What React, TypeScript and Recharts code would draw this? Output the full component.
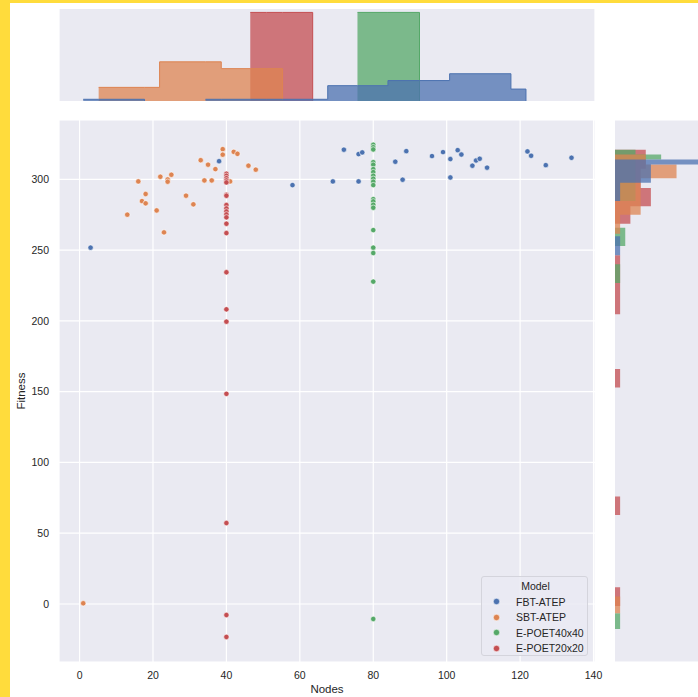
import React from "react";
import { ScatterChart, Scatter, ComposedChart, Area, XAxis, YAxis, CartesianGrid } from "recharts";

const HUES = ["FBT-ATEP", "SBT-ATEP", "E-POET40x40", "E-POET20x20"];
const COLORS = ["#4C72B0", "#DD8452", "#55A868", "#C44E52"];

const X_DOMAIN = [-5.6, 140.4];
const Y_DOMAIN = [-41, 342];
const X_TICKS = [0, 20, 40, 60, 80, 100, 120, 140];
const Y_TICKS = [0, 50, 100, 150, 200, 250, 300];

// scatter values
const fbtNodes = [3, 38, 58, 69, 72, 76, 77, 76, 86, 88, 89, 96, 99, 101, 101, 103, 104, 107, 108, 109, 111, 122, 123, 127, 134];
const fbtFitness = [251.8, 312.9, 296, 298.6, 321, 317.9, 319.1, 298.6, 312.5, 299.8, 320, 316.5, 319.3, 314.4, 301.4, 320.7, 317.6, 309.7, 313.4, 314.6, 308.3, 319.8, 316.7, 310.1, 315.3];
const sbtNodes = [1, 13, 16, 17, 18, 18, 21, 22, 23, 24, 24, 25, 29, 31, 33, 34, 35, 36, 37, 39, 39, 41, 42, 43, 46, 48];
const sbtFitness = [0.5, 275.1, 298.6, 284.7, 289.7, 283.1, 278.1, 301.9, 262.6, 300, 298.4, 303.3, 288.5, 282.4, 313.6, 299.3, 310.4, 299.3, 307.3, 321.4, 317.5, 298.6, 319.5, 318.1, 309.7, 306.9];
const poet40Nodes = 80;
const poet40Fitness = [324.5, 322.8, 321.2, 312.2, 310.4, 307.3, 305.2, 302.6, 300.5, 298.4, 296, 286.1, 284.5, 282.1, 280, 264.2, 251.8, 248, 227.8, -10.6];
const poet20Nodes = 40;
const poet20Fitness = [304, 302.6, 300.9, 299.3, 297.9, 289.2, 288.5, 281.9, 279.5, 277.4, 275.3, 273.2, 268.7, 262.1, 234.4, 208.2, 199.5, 148.5, 57.2, -7.8, -23.3];

// top marginal histogram (node bin edges, counts)
const topFbtEdges = [1.0, 17.7, 34.3, 50.9, 67.6, 84.0, 100.8, 117.5, 121.6];
const topFbtCounts = [1, 0, 1, 1, 9, 12, 16, 7];
const topSbtEdges = [5.2, 21.8, 38.6, 55.3];
const topSbtCounts = [8, 23, 19];
const topPoet40Edges = [75.7, 92.6];
const topPoet40Counts = [52];
const topPoet20Edges = [46.5, 63.5];
const topPoet20Counts = [52];

// right marginal histogram (fitness bin edges, counts)
const rightFbtEdges = [246.4, 259.8, 284.7, 297.7, 310.6, 314.1];
const rightFbtCounts = [1, 0, 1, 7, 18];
const rightSbtEdges = [-6.6, 5.2, 261.7, 275.1, 300.9, 310.6, 317.6];
const rightSbtCounts = [1, 0, 1, 5, 12, 6];
const rightPoet40Edges = [-17.6, -6.6, 226.8, 240.0, 252.9, 265.9, 284.7, 300.9, 314.1, 317.6, 321.0];
const rightPoet40Counts = [1, 0, 1, 0, 2, 0, 4, 4, 9, 4];
const rightPoet20Edges = [-1.4, 11.8, 62.8, 76.0, 153.0, 166.1, 204.7, 246.4, 268.7, 281.1, 294.0, 307.5, 321.0];
const rightPoet20Counts = [1, 0, 1, 0, 1, 0, 1, 0, 3, 7, 5, 6];

const FONT = "'Liberation Sans', Arial, sans-serif";
const TEXT = "#262626";
const BG = "#EAEAF2";

type Hist = { name: string; edges: number[]; counts: number[] };

// one row per bin edge (plus a break point inside every empty bin), one column per hue
function stepTable(key: string, hists: Hist[]) {
  const pts = hists.flatMap(h => [
    ...h.edges,
    ...h.counts.flatMap((c, j) => (c === 0 ? [(h.edges[j] + h.edges[j + 1]) / 2] : [])),
  ]);
  const all = Array.from(new Set(pts)).sort((a, b) => a - b);
  return all.map(e => {
    const row: Record<string, number | null> = { [key]: e };
    hists.forEach(({ name, edges, counts }) => {
      const last = edges[edges.length - 1];
      if (e < edges[0] || e > last) row[name] = null;
      else if (e === last) row[name] = 0;
      else {
        const j = edges.findIndex((v, k) => e >= v && e < edges[k + 1]);
        if (counts[j] === 0 && e !== edges[j]) row[name] = null;
        else row[name] = counts[j];
      }
    });
    return row;
  });
}

const topData = stepTable("x", [
  { name: HUES[0], edges: topFbtEdges, counts: topFbtCounts },
  { name: HUES[1], edges: topSbtEdges, counts: topSbtCounts },
  { name: HUES[2], edges: topPoet40Edges, counts: topPoet40Counts },
  { name: HUES[3], edges: topPoet20Edges, counts: topPoet20Counts },
]);

const rightData = stepTable("f", [
  { name: HUES[0], edges: rightFbtEdges, counts: rightFbtCounts },
  { name: HUES[1], edges: rightSbtEdges, counts: rightSbtCounts },
  { name: HUES[2], edges: rightPoet40Edges, counts: rightPoet40Counts },
  { name: HUES[3], edges: rightPoet20Edges, counts: rightPoet20Counts },
]);

const scatterSets = [
  fbtNodes.map((x, i) => ({ x, y: fbtFitness[i] })),
  sbtNodes.map((x, i) => ({ x, y: sbtFitness[i] })),
  poet40Fitness.map(y => ({ x: poet40Nodes, y })),
  poet20Fitness.map(y => ({ x: poet20Nodes, y })),
];

const drawOrder = [3, 2, 1, 0];

const dot = (color: string) => (p: any) => (
  <circle cx={p.cx} cy={p.cy} r={2.7} fill={color} stroke="#fff" strokeWidth={0.6} />
);

function Legend() {
  return (
    <div style={{
      position: "absolute", left: 481, top: 576, width: 107, height: 80, boxSizing: "border-box",
      background: "rgba(234,234,242,0.8)", border: "1px solid #d4d4dc", borderRadius: 3,
      fontFamily: FONT, fontSize: 10.5, color: TEXT,
    }}>
      <div style={{ position: "absolute", left: 0, width: 107, top: 3, textAlign: "center" }}>Model</div>
      {HUES.map((h, i) => (
        <div key={h} style={{ position: "absolute", left: 0, top: 18 + i * 15.5, height: 13, display: "flex", alignItems: "center" }}>
          <svg width={30} height={13}>
            <circle cx={14.5} cy={6.5} r={3.2} fill={COLORS[i]} stroke="#fff" strokeWidth={0.6} />
          </svg>
          <span style={{ marginLeft: 4 }}>{h}</span>
        </div>
      ))}
    </div>
  );
}

export default function App() {
  return (
    <div style={{ position: "absolute", left: 0, top: 0, width: 698, height: 697, overflow: "hidden", background: "#FFDC3C", fontFamily: FONT }}>
      <div style={{ position: "absolute", left: 10, top: 3, width: 688, height: 694, background: "#fff" }} />

      <div style={{ position: "absolute", left: 0, top: 0 }}>
        <ComposedChart width={610} height={110} data={topData} margin={{ top: 9, right: 15, bottom: 9, left: 59 }}>
          <CartesianGrid fill={BG} stroke="#fff" strokeWidth={1.2} horizontal={false} />
          <XAxis type="number" dataKey="x" domain={X_DOMAIN} ticks={X_TICKS} allowDataOverflow height={0} tick={false} axisLine={false} tickLine={false} />
          <YAxis type="number" domain={[0, 54]} hide />
          {drawOrder.map(i => (
            <Area key={HUES[i]} type="stepAfter" dataKey={HUES[i]} fill={COLORS[i]} fillOpacity={0.75}
              stroke={COLORS[i]} strokeWidth={1} isAnimationActive={false} dot={false} activeDot={false} />
          ))}
        </ComposedChart>
      </div>

      <div style={{ position: "absolute", left: 0, top: 110 }}>
        <ScatterChart width={610} height={587} margin={{ top: 10, right: 15, bottom: 0, left: 0 }}>
          <CartesianGrid fill={BG} stroke="#fff" strokeWidth={1.2} />
          <XAxis type="number" dataKey="x" domain={X_DOMAIN} ticks={X_TICKS} allowDataOverflow height={35}
            axisLine={false} tickLine={false} tickSize={0} tickMargin={10}
            tick={{ fill: TEXT, fontSize: 10.5, fontFamily: FONT }}
            label={{ value: "Nodes", position: "insideBottom", offset: 4, fill: TEXT, fontSize: 11.5, fontFamily: FONT }} />
          <YAxis type="number" dataKey="y" domain={Y_DOMAIN} ticks={Y_TICKS} allowDataOverflow width={59}
            axisLine={false} tickLine={false} tickSize={0} tickMargin={10}
            tick={{ fill: TEXT, fontSize: 10.5, fontFamily: FONT }}
            label={{ value: "Fitness", angle: -90, position: "insideLeft", offset: 21, style: { textAnchor: "middle" }, fill: TEXT, fontSize: 11.5, fontFamily: FONT }} />
          {scatterSets.map((d, i) => (
            <Scatter key={HUES[i]} name={HUES[i]} data={d} fill={COLORS[i]} shape={dot(COLORS[i])} isAnimationActive={false} />
          ))}
        </ScatterChart>
      </div>

      <div style={{ position: "absolute", left: 600, top: 110 }}>
        <ComposedChart layout="vertical" width={130} height={587} data={rightData} margin={{ top: 10, right: 15, bottom: 35, left: 15 }}>
          <CartesianGrid fill={BG} stroke="#fff" strokeWidth={1.2} vertical={false} />
          <XAxis type="number" domain={[0, 19.5]} height={0} tick={false} axisLine={false} tickLine={false} />
          <YAxis type="number" dataKey="f" domain={Y_DOMAIN} ticks={Y_TICKS} allowDataOverflow reversed width={0} tick={false} axisLine={false} tickLine={false} />
          {drawOrder.map(i => (
            <Area key={HUES[i]} type="stepBefore" dataKey={HUES[i]} fill={COLORS[i]} fillOpacity={0.75}
              stroke="none" isAnimationActive={false} dot={false} activeDot={false} />
          ))}
        </ComposedChart>
      </div>

      <Legend />
    </div>
  );
}
